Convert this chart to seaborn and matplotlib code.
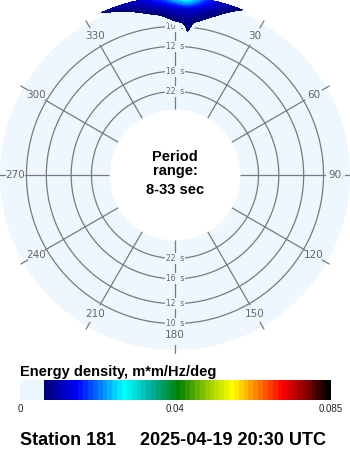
import numpy as np
import matplotlib
matplotlib.use("Agg")
import matplotlib.pyplot as plt
from matplotlib.colors import LinearSegmentedColormap, TwoSlopeNorm
import seaborn as sns

# ---------------- data ----------------
station = "Station 181"
timestamp = "2025-04-19 20:30 UTC"
period_min, period_max = 8, 33
period_circles = [10, 12, 16, 22]                       # seconds
compass_labels = [0, 30, 60, 90, 120, 150, 180, 210, 240, 270, 300, 330]
cbar_label = "Energy density, m*m/Hz/deg"
cbar_ticks = [0, 0.04, 0.085]
cbar_ticklabels = ["0", "0.04", "0.085"]
energy_max = 0.085
energy_mid = 0.04
energy_min_visible = 0.0057

spec_freqs = [0.085, 0.090, 0.095, 0.100, 0.105, 0.110, 0.115, 0.120, 0.125]  # Hz
spec_dirs = [-35, -30, -25, -20, -15, -10, -5, 0, 3, 5, 7, 10, 15, 20, 25, 30, 35]  # deg
# one column of energy (m*m/Hz/deg) per direction, ordered like spec_freqs
col_m35 = [0, 0, 0, 0, 0, 0, 0, 0.001, 0.001]
col_m30 = [0, 0, 0, 0, 0, 0, 0.001, 0.002, 0.003]
col_m25 = [0, 0, 0, 0, 0, 0, 0.002, 0.004, 0.0064]
col_m20 = [0, 0, 0, 0, 0, 0.002, 0.0035, 0.006, 0.009]
col_m15 = [0, 0, 0, 0, 0.002, 0.004, 0.0057, 0.008, 0.010]
col_m10 = [0, 0, 0, 0.001, 0.003, 0.0055, 0.0075, 0.010, 0.013]
col_m05 = [0, 0, 0.001, 0.003, 0.0053, 0.0068, 0.009, 0.014, 0.019]
col_p00 = [0, 0.001, 0.003, 0.005, 0.0068, 0.008, 0.011, 0.019, 0.027]
col_p03 = [0, 0.002, 0.004, 0.0055, 0.0075, 0.009, 0.012, 0.022, 0.030]
col_p05 = [0.002, 0.005, 0.0065, 0.0075, 0.008, 0.009, 0.012, 0.021, 0.029]
col_p07 = [0, 0.002, 0.004, 0.0057, 0.007, 0.008, 0.011, 0.018, 0.025]
col_p10 = [0, 0, 0.002, 0.004, 0.006, 0.0075, 0.009, 0.014, 0.018]
col_p15 = [0, 0, 0, 0.001, 0.003, 0.0055, 0.007, 0.009, 0.011]
col_p20 = [0, 0, 0, 0, 0.001, 0.002, 0.004, 0.006, 0.008]
col_p25 = [0, 0, 0, 0, 0, 0, 0.002, 0.003, 0.005]
col_p30 = [0, 0, 0, 0, 0, 0, 0.001, 0.002, 0.003]
col_p35 = [0, 0, 0, 0, 0, 0, 0, 0.001, 0.001]
spec_columns = [col_m35, col_m30, col_m25, col_m20, col_m15, col_m10, col_m05,
                col_p00, col_p03, col_p05, col_p07, col_p10, col_p15, col_p20,
                col_p25, col_p30, col_p35]

# ---------------- style ----------------
sns.set_theme(style="white")
plt.rcParams["font.family"] = ["Liberation Sans", "DejaVu Sans"]

DISK = "#eef6fe"
GRID = "#7a7a7a"
LABEL = "#666666"

cmap = LinearSegmentedColormap.from_list(
    "cdip",
    [(0.0, DISK), (0.068, DISK), (0.068, "#00006e"), (0.18, "#0000ff"),
     (0.33, "#00ffff"), (0.42, "#00b0a0"), (0.51, "#008000"),
     (0.60, "#90c800"), (0.685, "#ffff00"), (0.75, "#ff9900"),
     (0.846, "#ff0000"), (0.93, "#800000"), (1.0, "#000000")], N=64)
norm = TwoSlopeNorm(vmin=0, vcenter=energy_mid, vmax=energy_max)

R_ORIGIN = -0.0246
R_MAX = 0.1222
R_PIX = 175.0


def px2f(px):
    return R_ORIGIN + px / R_PIX * (R_MAX - R_ORIGIN)


fig = plt.figure(figsize=(3.5, 4.5), dpi=100)
fig.patch.set_facecolor("white")
ax = fig.add_axes([0, 100 / 450, 1, 350 / 450], projection="polar")
ax.set_theta_zero_location("N")
ax.set_theta_direction(-1)
ax.set_rorigin(R_ORIGIN)
ax.set_ylim(1.0 / period_max, R_MAX)
ax.set_facecolor(DISK)
ax.grid(False)
ax.set_xticks([])
ax.set_yticks([])
for sp in ax.spines.values():
    sp.set_visible(False)
    sp.set_linewidth(0)
    sp.set_edgecolor("none")

# period circles
theta_full = np.linspace(0, 2 * np.pi, 361)
for p in period_circles:
    sns.lineplot(x=theta_full, y=np.full_like(theta_full, 1.0 / p), ax=ax,
                 color=GRID, lw=0.9, estimator=None, sort=False, zorder=1)

# radial lines, tick marks and compass labels
for a in compass_labels:
    th = np.deg2rad(a)
    ax.plot([th, th], [1.0 / period_max, px2f(150)], color=GRID, lw=0.9, zorder=1)
    ax.plot([th, th], [px2f(170), px2f(178)], color=GRID, lw=0.9, zorder=1,
            clip_on=False)
    ax.text(th, px2f(160), str(a), ha="center", va="center", fontsize=7.5,
            color=LABEL, family=["DejaVu Sans"], zorder=2, clip_on=False)

# period labels on N and S lines
for p in period_circles:
    for a in (0, 180):
        ax.text(np.deg2rad(a), 1.0 / p, f"{p}  s", ha="center", va="center",
                fontsize=5.5, color=LABEL, family=["DejaVu Sans"], zorder=3,
                bbox=dict(boxstyle="square,pad=0.15", fc=DISK, ec="none"))

# directional spectrum
energy = np.array(spec_columns).T
levels = np.linspace(energy_min_visible, energy_max, 80)
cs = ax.contourf(np.deg2rad(spec_dirs), spec_freqs, energy,
                 levels=levels, cmap=cmap, norm=norm, extend="max", zorder=5)
cs.set_clip_on(False)

# centre text
cx = 0.5
fig.text(cx, 1 - 161 / 450, "Period", ha="center", va="baseline",
         fontsize=10.5, fontweight="bold", color="black")
fig.text(cx, 1 - 175 / 450, "range:", ha="center", va="baseline",
         fontsize=10.5, fontweight="bold", color="black")
fig.text(cx, 1 - 194 / 450, f"{period_min}-{period_max} sec", ha="center",
         va="baseline", fontsize=10.5, fontweight="bold", color="black")

# colorbar
cax = fig.add_axes([20 / 350, 50 / 450, 311 / 350, 20 / 450])
sm = plt.cm.ScalarMappable(norm=norm, cmap=cmap)
cb = fig.colorbar(sm, cax=cax, orientation="horizontal", ticks=cbar_ticks)
cb.set_ticklabels(cbar_ticklabels)
cb.outline.set_visible(False)
cax.tick_params(length=0, labelsize=7, pad=3, colors="#222222")
fig.text(20 / 350, 1 - 376 / 450, cbar_label, ha="left", va="baseline",
         fontsize=10.5, fontweight="bold", color="black")

# footer
fig.text(20 / 350, 1 - 445 / 450, station, ha="left", va="baseline",
         fontsize=13, fontweight="bold", color="black")
fig.text(140 / 350, 1 - 445 / 450, timestamp, ha="left", va="baseline",
         fontsize=13, fontweight="bold", color="black")

fig.savefig("out.png", dpi=100, facecolor="white")
